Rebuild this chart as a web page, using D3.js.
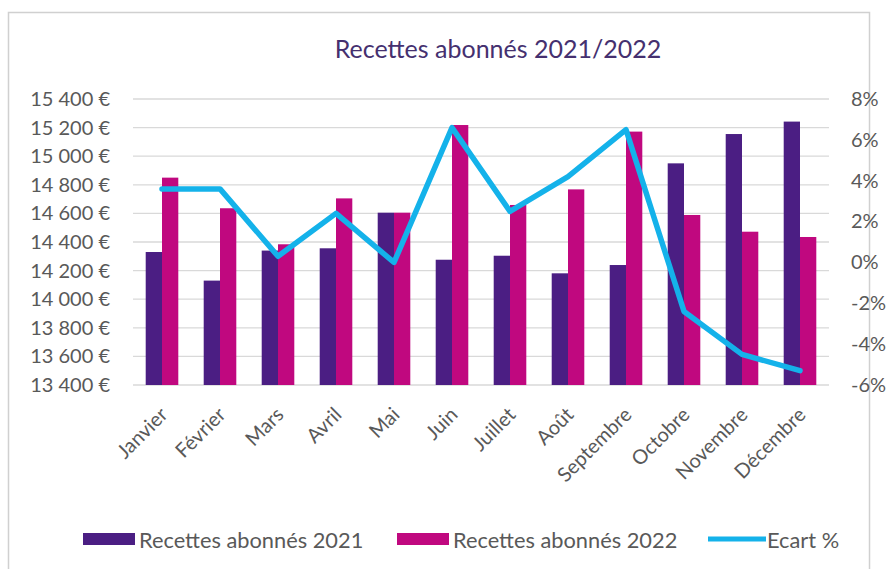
<!DOCTYPE html>
<html><head><meta charset="utf-8">
<script src="https://cdn.jsdelivr.net/npm/d3@7"></script>
<style>
html,body{margin:0;padding:0;background:#fff;}
svg{display:block;font-family:Carlito,Calibri,Lato,sans-serif;}
</style></head>
<body><svg id="c" width="892" height="569"></svg>
<script>
const months = ["Janvier","Février","Mars","Avril","Mai","Juin","Juillet","Août","Septembre","Octobre","Novembre","Décembre"];
const recettes2021 = [14330,14130,14340,14356,14605,14276,14304,14181,14239,14950,15155,15242];
const recettes2022 = [14850,14636,14384,14705,14605,15218,14659,14768,15172,14589,14472,14435];
const ecart = [3.6,3.6,0.3,2.4,0.0,6.6,2.5,4.2,6.5,-2.4,-4.5,-5.3];
const leftTicks = [13400,13600,13800,14000,14200,14400,14600,14800,15000,15200,15400];
const rightTicks = [-6,-4,-2,0,2,4,6,8];
const seriesNames = ["Recettes abonnés 2021","Recettes abonnés 2022","Ecart %"];
const title = "Recettes abonnés 2021/2022";

const colors = {c21:"#4b1e83", c22:"#c0087f", line:"#14b2ea", grid:"#d9d9d9", text:"#595959", title:"#45306f"};
const svg = d3.select("#c");
const plot = {left:133, right:829, top:99, bottom:385};

// border
svg.append("rect").attr("x",8.5).attr("y",12.5).attr("width",861).attr("height",570)
  .attr("fill","#fff").attr("stroke","#d0d0d0").attr("stroke-width",1.5);

const x0 = d3.scaleBand().domain(months).range([plot.left,plot.right]).paddingInner(0.438).paddingOuter(0.219);
const x1 = d3.scaleBand().domain(["a","b"]).range([0,x0.bandwidth()]);
const yL = d3.scaleLinear().domain([13400,15400]).range([plot.bottom,plot.top]);
const yR = d3.scaleLinear().domain([-6,8]).range([plot.bottom,plot.top]);

// gridlines
svg.append("g").selectAll("line").data(leftTicks).join("line")
  .attr("x1",plot.left).attr("x2",plot.right)
  .attr("y1",d=>yL(d)).attr("y2",d=>yL(d))
  .attr("stroke",colors.grid).attr("stroke-width",1.3);

// left axis
const fmtL = d => d3.format(",")(d).replace(",", "\u202F") + "\u00A0€";
const axL = svg.append("g").attr("transform",`translate(${plot.left},0)`)
  .call(d3.axisLeft(yL).tickValues(leftTicks).tickSize(0).tickPadding(23).tickFormat(fmtL));
axL.select(".domain").remove();
axL.selectAll("text").attr("font-size",20).attr("fill",colors.text).attr("font-family","Lato, sans-serif");

// right axis
const axR = svg.append("g").attr("transform",`translate(${plot.right},0)`)
  .call(d3.axisRight(yR).tickValues(rightTicks).tickSize(0).tickPadding(22).tickFormat(d=>d+"%"));
axR.select(".domain").remove();
axR.selectAll("text").attr("font-size",20).attr("fill",colors.text).attr("font-family","Lato, sans-serif");

// bars
const g = svg.append("g");
g.selectAll("rect.b21").data(months).join("rect").attr("class","b21")
  .attr("x",(m)=>x0(m)+x1("a")).attr("width",x1.bandwidth())
  .attr("y",(m,i)=>yL(recettes2021[i])).attr("height",(m,i)=>yL(13400)-yL(recettes2021[i]))
  .attr("fill",colors.c21);
g.selectAll("rect.b22").data(months).join("rect").attr("class","b22")
  .attr("x",(m)=>x0(m)+x1("b")).attr("width",x1.bandwidth())
  .attr("y",(m,i)=>yL(recettes2022[i])).attr("height",(m,i)=>yL(13400)-yL(recettes2022[i]))
  .attr("fill",colors.c22);

// line
const line = d3.line().x((d,i)=>x0(months[i])+x0.bandwidth()/2).y(d=>yR(d));
svg.append("path").datum(ecart).attr("d",line).attr("fill","none")
  .attr("stroke",colors.line).attr("stroke-width",5.5).attr("stroke-linejoin","round").attr("stroke-linecap","round");

// x labels
svg.append("g").selectAll("text").data(months).join("text")
  .attr("transform",m=>`translate(${x0(m)+x0.bandwidth()/2+2},${411}) rotate(-45)`)
  .attr("text-anchor","end").attr("dy","0.35em")
  .attr("font-size",20).attr("fill",colors.text).attr("font-family","Lato, sans-serif")
  .text(m=>m);

// title
svg.append("text").attr("x",498).attr("y",58).attr("text-anchor","middle")
  .attr("font-size",25).attr("fill",colors.title).attr("font-family","Lato, sans-serif").text(title);

// legend
const lg = svg.append("g").attr("font-family","Lato, sans-serif").attr("font-size",21.8).attr("fill",colors.text);
const legendItems = [
  {name:seriesNames[0], type:"rect", color:colors.c21, x:83},
  {name:seriesNames[1], type:"rect", color:colors.c22, x:397},
  {name:seriesNames[2], type:"line", color:colors.line, x:708}
];
legendItems.forEach(it=>{
  if(it.type==="rect"){
    lg.append("rect").attr("x",it.x).attr("y",533).attr("width",52).attr("height",12).attr("fill",it.color);
    lg.append("text").attr("x",it.x+56).attr("y",540).attr("dy","0.35em").text(it.name);
  } else {
    lg.append("line").attr("x1",it.x).attr("x2",it.x+58).attr("y1",539).attr("y2",539)
      .attr("stroke",it.color).attr("stroke-width",5);
    lg.append("text").attr("x",it.x+59).attr("y",540).attr("dy","0.35em").text(it.name);
  }
});
</script></body></html>
